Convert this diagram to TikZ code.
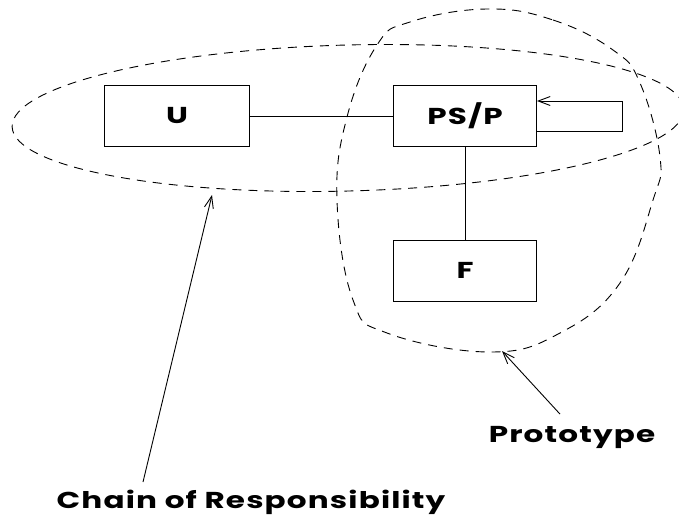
\documentclass[tikz,border=0pt]{standalone}
\usepackage{fontspec}
\setmainfont{Poppins}[FakeStretch=1.35, LetterSpace=5]
\usetikzlibrary{positioning,arrows.meta}

\begin{document}
\begin{tikzpicture}[x=1pt, y=-1pt, line width=0.9pt,
    font=\fontsize{23}{27}\selectfont\bfseries,
    box/.style={draw, rectangle, minimum width=143pt, minimum height=61pt, inner sep=0pt},
    pointer/.style={-{Straight Barb[length=12pt, width=9pt]}},
    group/.style={dash pattern=on 9pt off 7pt}]

        \useasboundingbox (0,0) rectangle (679,524);

        % Boxes
        \node[box] (psp) at (465,116) {PS/P};
        \node[box, left=143pt of psp, minimum width=145pt] (u) {U};
        \node[box, below=93pt of psp] (f) {F};

        \draw (u) -- (psp);
        \draw (psp) -- (f);

        % Loop back into PS/P
        \draw[pointer] ([yshift=-15pt]psp.east) -- ++(85,0) -- ++(0,-30) -- ([yshift=15pt]psp.east);

        % Chain of Responsibility group
        \draw[group, rotate around={1.5:(348,118)}] (348,118) ellipse [x radius=336, y radius=73];

        % Prototype group
        \draw[group] plot[smooth cycle, tension=0.7] coordinates {
            (487,9) (553,20) (613,50) (640,83) (660,157) (653,200) (620,283)
            (560,333) (490,352) (387,333) (353,300) (337,200) (347,117) (377,45) (410,22)};

        % Labels
        \node (proto) at (572,437) {Prototype};
        \coordinate (prototip) at (502,351);
        \draw[pointer] (proto.north) ++(-12,-8) -- (prototip);

        \node (chain) at (251,502) {Chain of Responsibility};
        \coordinate (chaintail) at (143,482);
        \coordinate (chaintip) at (212,195);
        \draw[pointer] (chaintail) -- (chaintip);

\end{tikzpicture}
\end{document}
